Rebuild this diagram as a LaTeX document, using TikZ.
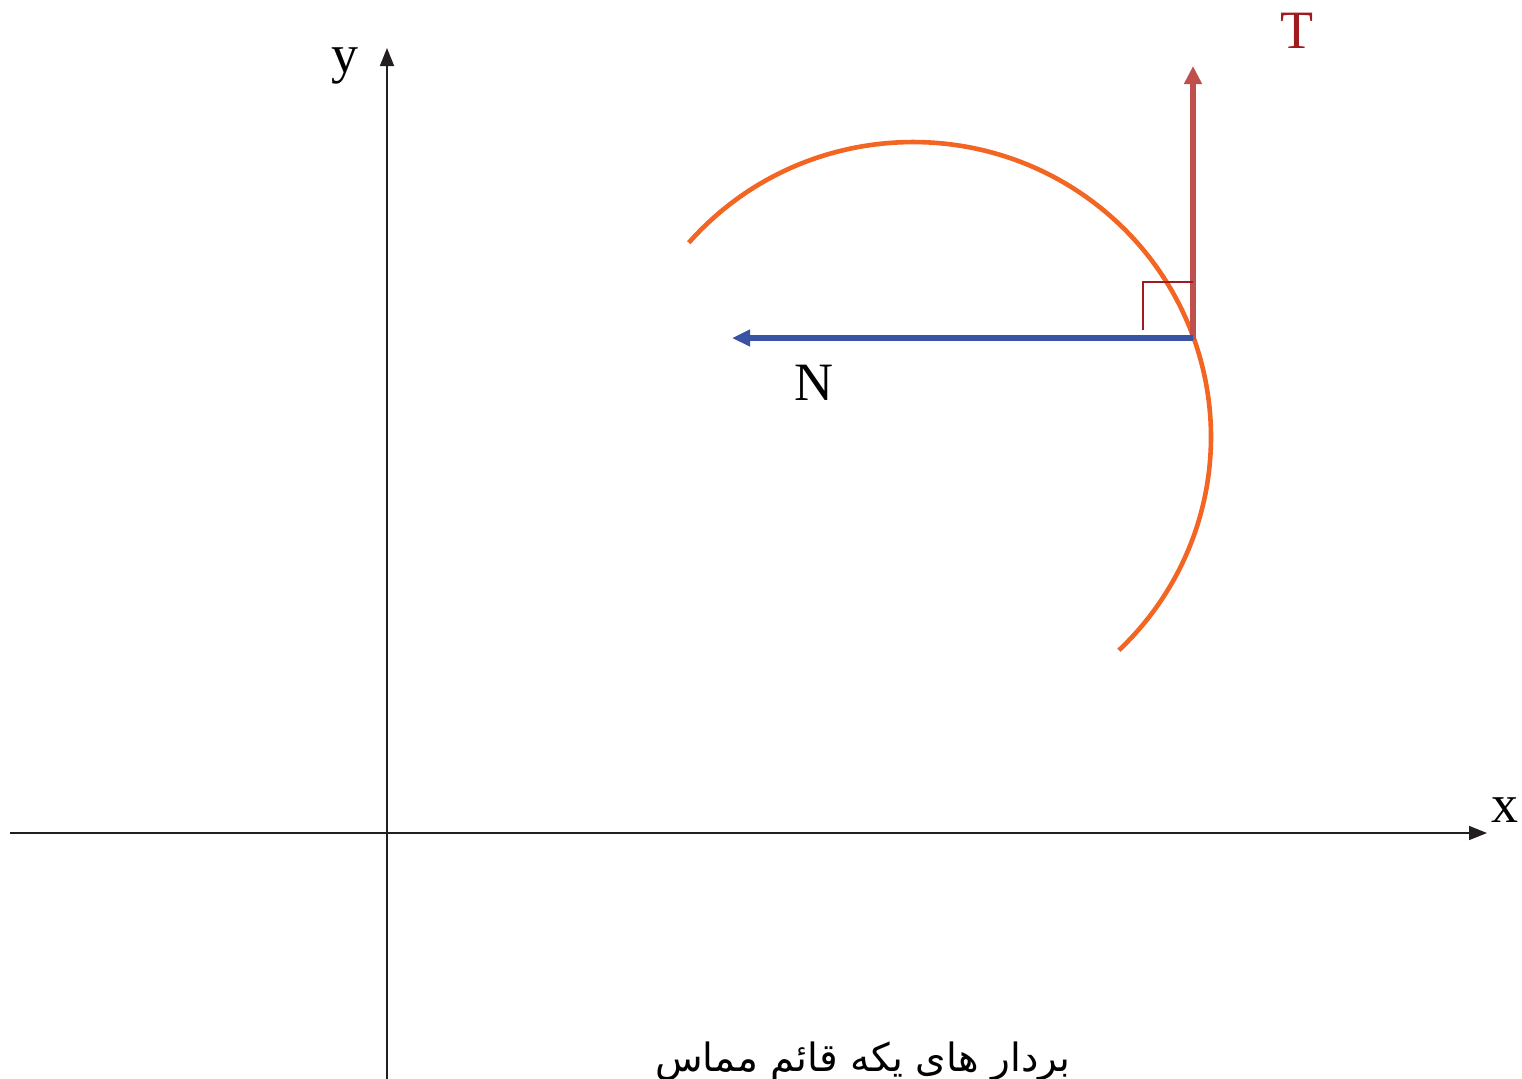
\documentclass[tikz,border=0pt]{standalone}
\usepackage{fontspec}
\setmainfont{Liberation Serif}
\newfontfamily\arabicfont[Script=Arabic]{DejaVu Sans}
\TeXXeTstate=1
\usetikzlibrary{arrows.meta}
\definecolor{arcorange}{HTML}{F26522}
\definecolor{tred}{HTML}{C0504D}
\definecolor{tlabel}{HTML}{9E1B20}
\definecolor{nblue}{HTML}{3953A4}
\definecolor{axisgray}{HTML}{231F20}
\tikzset{
  axisline/.style={draw=axisgray, line width=0.8pt, -{Triangle[length=9pt,width=7pt]}},
  vecT/.style={draw=tred, line width=2.6pt, -{Triangle[length=9pt,width=8.5pt]}},
  vecN/.style={draw=nblue, line width=2.6pt, -{Triangle[length=9pt,width=8pt]}},
  lbl/.style={font=\fontsize{27}{30}\selectfont, inner sep=0pt},
  rightmark/.style={draw=tlabel, line width=0.9pt},
  curve/.style={draw=arcorange, line width=2.3pt}
}
\begin{document}
\begin{tikzpicture}[x=0.5pt,y=0.5pt]
\useasboundingbox (0,-1078) rectangle (1522,0);
\clip (0,-1078) rectangle (1522,0);
% axes
\coordinate (xs) at (10,-833);
\coordinate (xe) at (1487,-833);
\coordinate (ys) at (387,-1080);
\coordinate (ye) at (387,-48);
\draw[axisline] (xs) -- (xe);
\draw[axisline] (ys) -- (ye);
\node[lbl, anchor=base] (xl) at (1505,-822) {x};
\node[lbl, anchor=base] (yl) at (345,-72) {y};
% arc
\draw[curve] (913,-439) ++(138.8:298) arc[start angle=138.8, end angle=-46.3, x radius=298, y radius=295];
% vectors
\coordinate (P) at (1193,-338);
\coordinate (Ttip) at (1193,-66);
\coordinate (Ntip) at (732,-338);
\draw[vecT] (1193,-340) -- (Ttip);
\draw[vecN] (P) -- (Ntip);
\draw[rightmark] (1143,-330) -- (1143,-282) -- (1193,-282);
\node[lbl, anchor=base, text=tlabel] (tl) at (1297,-48) {T};
\node[lbl, anchor=base] (nl) at (814,-400) {N};
% caption
\node[anchor=base, inner sep=0pt, font=\arabicfont\fontsize{19.5}{22}\selectfont] (cap) at (863,-1071) {\beginR بردار های یکه قائم مماس\endR};
\end{tikzpicture}
\end{document}
